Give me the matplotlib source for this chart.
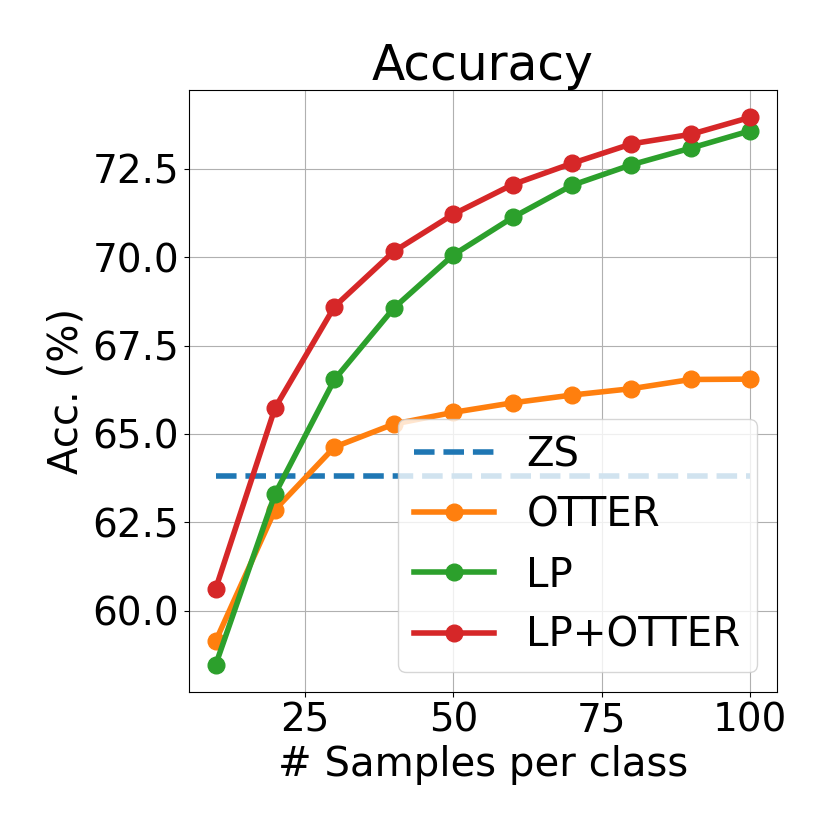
import matplotlib
matplotlib.use("Agg")
import matplotlib.pyplot as plt

samples = [10, 20, 30, 40, 50, 60, 70, 80, 90, 100]
zs_value = 63.82
otter = [59.15, 62.86, 64.63, 65.28, 65.61, 65.88, 66.10, 66.28, 66.54, 66.55]
lp = [58.48, 63.31, 66.54, 68.56, 70.06, 71.12, 72.03, 72.61, 73.08, 73.57]
lp_otter = [60.63, 65.74, 68.60, 70.16, 71.21, 72.05, 72.65, 73.20, 73.47, 73.95]

plt.rcParams['font.size'] = 29
plt.rcParams['xtick.labelsize'] = 28
plt.rcParams['ytick.labelsize'] = 28

fig = plt.figure(figsize=(8.3, 8.3), dpi=100)
ax = fig.add_axes([0.2277, 0.1663, 0.7084, 0.7253])

ax.plot(samples, [zs_value] * len(samples), linestyle='--', color='tab:blue', linewidth=4, label='ZS')
ax.plot(samples, otter, marker='o', color='tab:orange', linewidth=4, markersize=12, label='OTTER')
ax.plot(samples, lp, marker='o', color='tab:green', linewidth=4, markersize=12, label='LP')
ax.plot(samples, lp_otter, marker='o', color='tab:red', linewidth=4, markersize=12, label='LP+OTTER')

ax.set_xticks([25, 50, 75, 100])
ax.set_yticks([60.0, 62.5, 65.0, 67.5, 70.0, 72.5])
ax.set_title('Accuracy', fontsize=35)
ax.set_xlabel('# Samples per class')
ax.set_ylabel('Acc. (%)')
ax.grid(True)
ax.legend(loc='lower right', fontsize=29)

fig.savefig('out.png', dpi=100)
